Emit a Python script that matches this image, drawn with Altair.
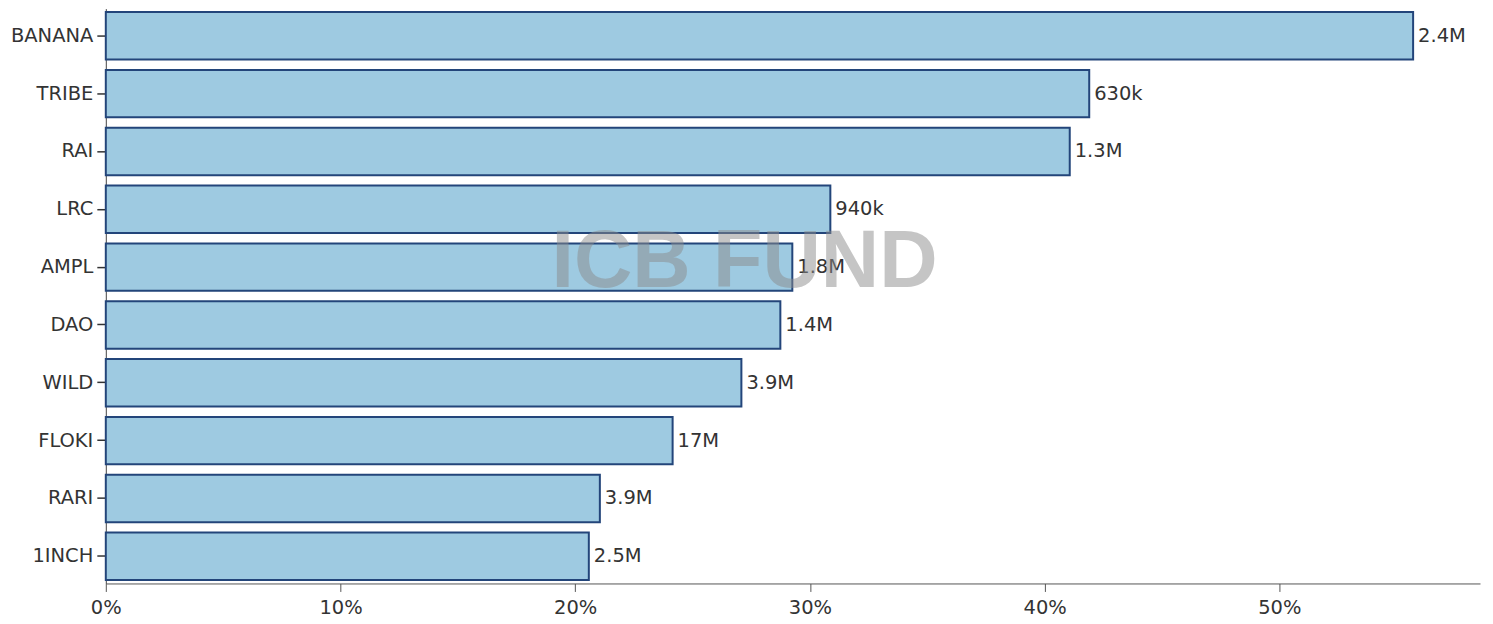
import altair as alt
import pandas as pd

tokens = ["BANANA", "TRIBE", "RAI", "LRC", "AMPL", "DAO", "WILD", "FLOKI", "RARI", "1INCH"]
shares = [0.557, 0.419, 0.4107, 0.3087, 0.2925, 0.2874, 0.2708, 0.2415, 0.2105, 0.2058]
amounts = ["2.4M", "630k", "1.3M", "940k", "1.8M", "1.4M", "3.9M", "17M", "3.9M", "2.5M"]
tick_values = [0, 0.1, 0.2, 0.3, 0.4, 0.5]
watermark = ["ICB FUND"]

df = pd.DataFrame({"token": tokens, "share": shares, "amount": amounts})

FONT = "DejaVu Sans"
FS = 19.5

x = alt.X("share:Q",
          scale=alt.Scale(domain=[0, 0.5855], nice=False, zero=True),
          axis=alt.Axis(values=tick_values, format=".0%", title=None, grid=False,
                        domainColor="#555", tickColor="#555", tickSize=8,
                        labelColor="#333", labelFontSize=FS, labelFont=FONT,
                        labelPadding=7, labelFlush=False))
y = alt.Y("token:N", sort=tokens,
          scale=alt.Scale(paddingInner=0.18, paddingOuter=0.06),
          axis=alt.Axis(title=None, grid=False, domainColor="#444", tickColor="#333",
                        tickSize=9, tickWidth=1.5, labelColor="#333", labelFontSize=FS,
                        labelFont=FONT, labelPadding=4))

bars = alt.Chart(df).mark_bar(color="#9ecae1", stroke="#23457a", strokeWidth=2).encode(
    x=x, y=y)

labels = alt.Chart(df).mark_text(align="left", baseline="middle", dx=5,
                                 fontSize=FS, font=FONT, color="#333").encode(
    x="share:Q", y=alt.Y("token:N", sort=tokens), text="amount:N")

wm = alt.Chart(pd.DataFrame({"t": watermark})).mark_text(
    font="Liberation Sans", fontWeight="bold", fontSize=81, color="#8c8c8c",
    opacity=0.5, align="center", baseline="middle").encode(
    text="t:N", x=alt.value(640), y=alt.value(255))

chart = alt.layer(bars, labels, wm).properties(
    width=1377, height=576,
    autosize=alt.AutoSizeParams(type="none"),
    padding={"left": 98, "top": 0, "right": 5, "bottom": 40},
).configure(background="white").configure_view(stroke=None)

chart.save("out.html", embed_options={"renderer": "svg", "actions": False})
